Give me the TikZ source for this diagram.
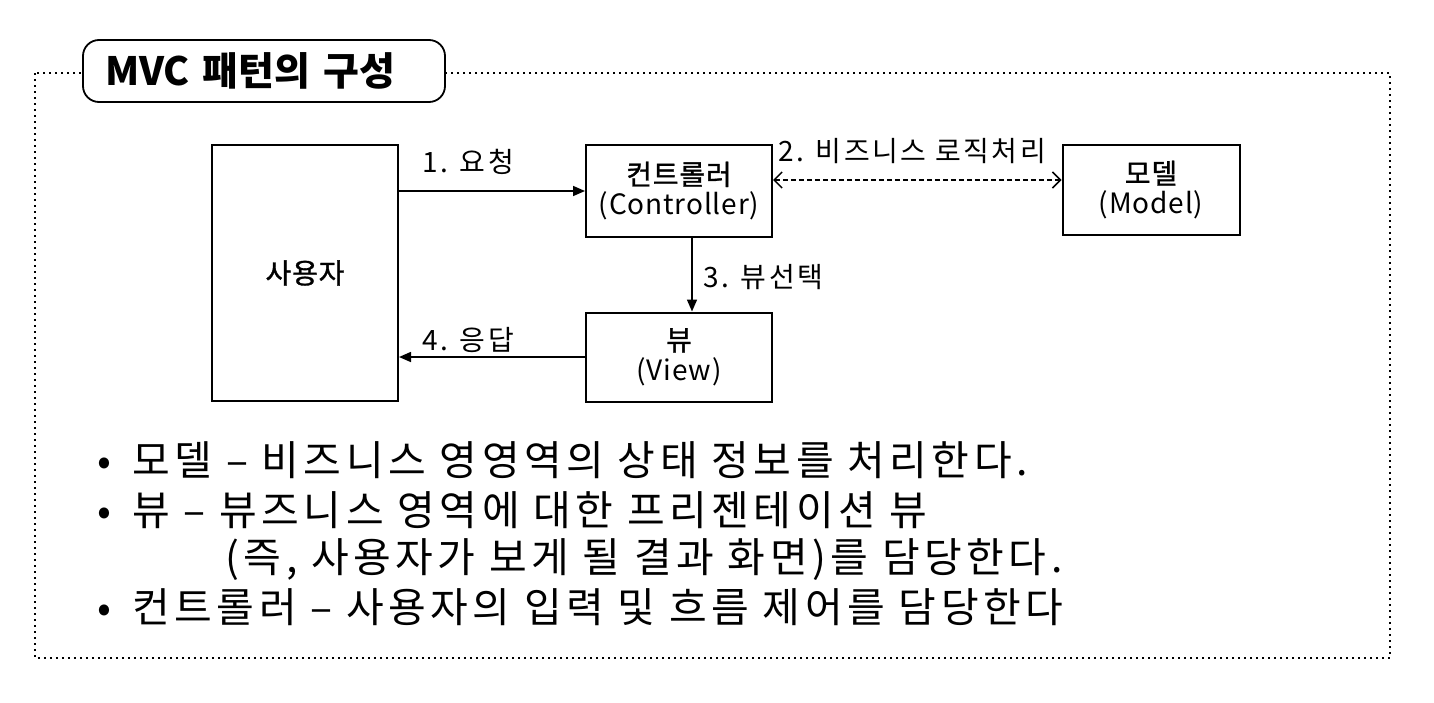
\documentclass[tikz,border=0pt]{standalone}
\usepackage{fontspec}
\setmainfont{Noto Sans CJK KR}
\newfontfamily\krmid[FakeBold=1.2, LetterSpace=3]{Noto Sans CJK KR}
\newfontfamily\krbox[LetterSpace=3]{Noto Sans CJK KR}
\newfontfamily\krlbl[LetterSpace=9]{Noto Sans CJK KR}
\newfontfamily\krwide[LetterSpace=11]{Noto Sans CJK KR}
\usepackage{tikz}
\usetikzlibrary{arrows.meta,positioning}

\begin{document}
\begin{tikzpicture}[
      x=0.5pt, y=-0.5pt,
      box/.style={draw=black, line width=1pt, align=center, inner sep=0pt,
          minimum width=93pt, minimum height=46pt,
          font=\krbox\fontsize{14}{16}\selectfont},
      lbl/.style={inner sep=0pt, font=\krlbl\fontsize{14}{16}\selectfont},
      item/.style={anchor=west, inner sep=0pt, font=\krwide\fontsize{20.5}{23}\selectfont},
      titlebox/.style={draw=black, line width=0.9pt, rounded corners=8pt, fill=white,
          minimum width=181pt, minimum height=31pt, text width=159pt, inner xsep=11pt,
          align=left, font=\fontsize{19.5}{22}\selectfont\bfseries},
      frame/.style={line width=0.8pt, dash pattern=on 0.8pt off 2.2pt},
      arrow/.style={-{Triangle[length=6pt, width=5pt]}, line width=0.8pt},
      darrow/.style={{Straight Barb[length=4pt, width=8pt]}-{Straight Barb[length=4pt, width=8pt]},
          line width=0.75pt, dash pattern=on 2.5pt off 1.5pt}
    ]
    \useasboundingbox (0,0) rectangle (1434,702);
    \draw[frame] (35,73) rectangle (1390,658);
    \node[titlebox] (title) at (264,71) {MVC 패턴의 구성};

    \node[box, minimum height=128pt] (user) at (305,273) {\krmid 사용자};
    \node[box] (ctrl) at (679,191) {\krmid 컨트롤러\\[-1pt](Controller)};
    \node[box, minimum width=88.5pt, minimum height=45pt] (model) at (1151,190) {\krmid 모델\\[-1pt](Model)};
    \node[box, minimum height=44.5pt] (view) at (679,357) {\krmid 뷰\\[-1pt](View)};

    \draw[arrow] (user.east |- ctrl) -- (ctrl.west);
    \draw[darrow] (ctrl.east |- 0,180) -- (model.west |- 0,180);
    \draw[arrow] ([xshift=6.5pt]ctrl.south) -- ([xshift=6.5pt]view.north);
    \draw[arrow] (view.west) -- (user.east |- view);

    \node[lbl] (req) at (468,162) {1. 요청};
    \node[lbl] (biz) at (912,151) {2. 비즈니스 로직처리};
    \node[lbl, anchor=west] (sel) at (703,277) {3. 뷰선택};
    \node[lbl] (resp) at (468,340) {4. 응답};

    \node[item] (mtxt) at (97,460) {\makebox[17.5pt][l]{•}모델 – 비즈니스 영영역의 상태 정보를 처리한다.};
    \node[item] (vtxt) at (97,510) {\makebox[17.5pt][l]{•}뷰 – 뷰즈니스 영역에 대한 프리젠테이션 뷰};
    \node[item] (vtxt2) at (225,560) {(즉, 사용자가 보게 될 결과 화면)를 담당한다.};
    \node[item] (ctxt) at (97,607) {\makebox[17.5pt][l]{•}컨트롤러 – 사용자의 입력 및 흐름 제어를 담당한다};
  \end{tikzpicture}
\end{document}
